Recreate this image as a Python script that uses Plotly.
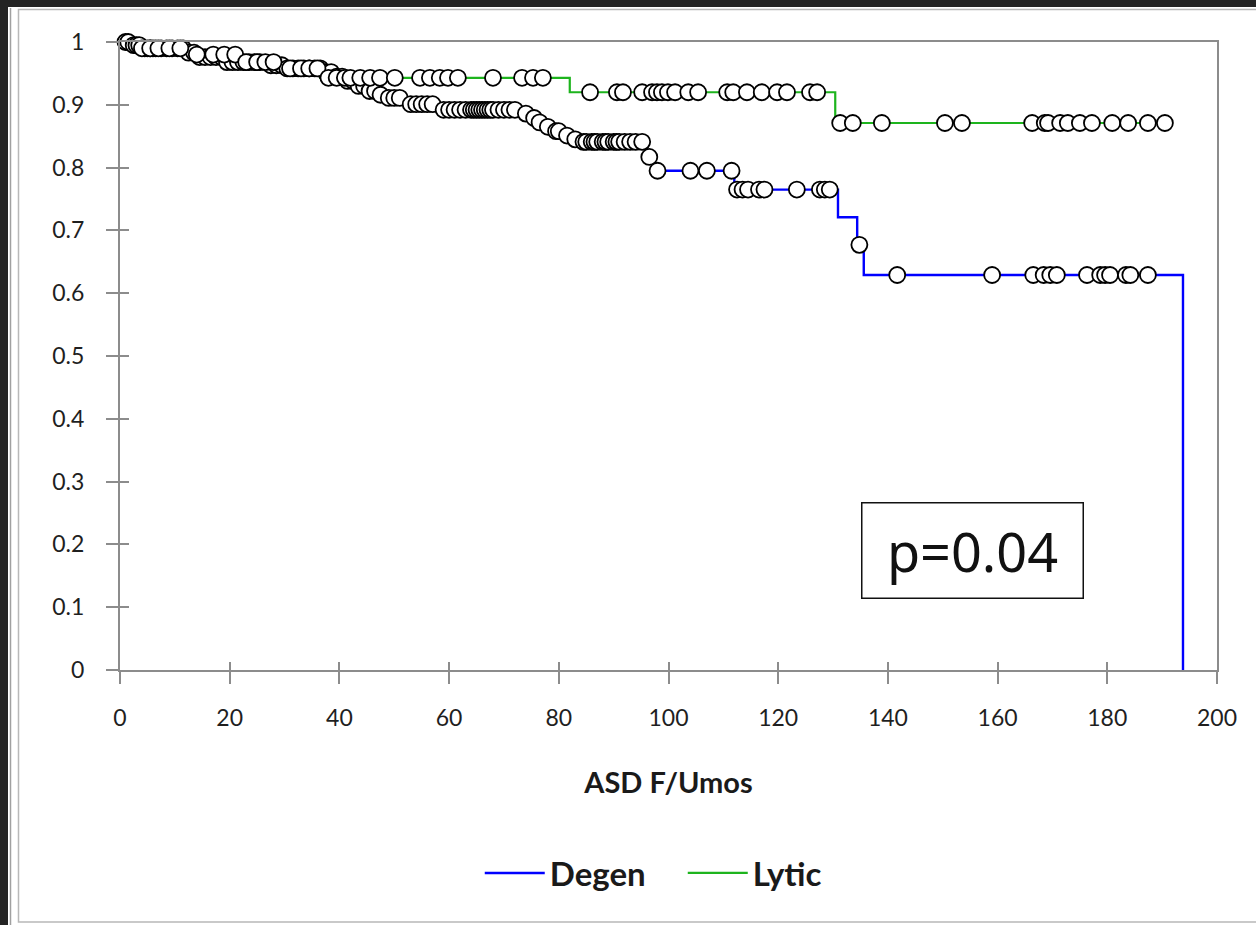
import bisect
import plotly.graph_objects as go

# ---------------- data ----------------
x_tick_vals = [0, 20, 40, 60, 80, 100, 120, 140, 160, 180, 200]
x_tick_text = ["0", "20", "40", "60", "80", "100", "120", "140", "160", "180", "200"]
y_tick_vals = [0, 0.1, 0.2, 0.3, 0.4, 0.5, 0.6, 0.7, 0.8, 0.9, 1.0]
y_tick_text = ["0", "0.1", "0.2", "0.3", "0.4", "0.5", "0.6", "0.7", "0.8", "0.9", "1"]

# Degen: event times and survival after each event
degen_event_t = [2, 4, 12, 14, 19, 27, 30, 37, 39, 41, 43, 45, 47, 48.5, 52.5, 58,
                 73.5, 75, 76, 77.5, 79, 81, 82.5, 84, 96, 97.5, 112, 130.9, 134.4,
                 135.6, 193.8]
degen_event_s = [0.995, 0.99, 0.983, 0.976, 0.968, 0.963, 0.958, 0.952, 0.945, 0.938,
                 0.93, 0.922, 0.916, 0.911, 0.901, 0.892, 0.886, 0.879, 0.872, 0.865,
                 0.858, 0.851, 0.845, 0.841, 0.817, 0.795, 0.765, 0.721, 0.677,
                 0.629, 0.0]
degen_censor_t = [1, 1.5, 2.5, 3, 3.5, 4.5, 5, 5.5, 6, 6.5, 7.5, 8.5, 9.5, 10.5, 11.5,
                  12.5, 13.5, 14.5, 15.5, 16.5, 17.5, 18.5, 19.5, 20.5, 21.5, 22.5,
                  23.5, 24.5, 25.5, 27.5, 28.5, 29.5, 30.5, 31.5, 32.5, 33.5, 34.5,
                  35.5, 36.5, 37.5, 38.5, 39.5, 40.5, 41.5, 42.5, 43.5, 44.5, 45.5,
                  46.5, 47.5, 49, 50, 51, 53, 54, 55, 56, 57, 59, 60, 61, 62, 63, 64,
                  64.5, 65, 65.5, 66, 66.5, 67, 67.5, 68, 69, 70, 71, 72, 74, 75.5,
                  76.5, 78, 79.5, 80, 81.5, 83, 84.5, 85, 86, 86.5, 87, 88, 88.5, 89,
                  90, 90.5, 91, 92, 93, 94, 95.2, 96.5, 98, 104, 107, 111.5, 112.5,
                  113.5, 114.5, 116.5, 117.5, 123.4, 127.6, 128.5, 129.4, 134.8,
                  141.7, 159, 166.5, 168.4, 169.6, 170.8, 176.3, 178.7, 179.6, 180.5,
                  183.4, 184.2, 187.4]

# Lytic: event times and survival after each event
lytic_event_t = [3, 13, 22, 29, 36.5, 82, 130.4]
lytic_event_s = [0.99, 0.98, 0.968, 0.958, 0.943, 0.92, 0.871]
lytic_censor_t = [4, 5.5, 7, 9, 11, 14, 17, 19, 21, 23, 25, 26.5, 28, 31, 33, 34.5, 36,
                  38, 39.5, 41, 42, 43.8, 45.6, 47.4, 50.1, 54.7, 56.5, 58.3, 59.8,
                  61.6, 68, 73.3, 75.3, 77.1, 85.7, 90.6, 91.7, 95.2, 97, 97.9, 98.8,
                  99.9, 101.2, 103.6, 105.4, 110.7, 111.8, 114.3, 117, 119.8, 121.6,
                  125.8, 127.1, 131.3, 133.6, 138.9, 150.4, 153.5, 166.3, 168.6,
                  169.2, 171.4, 172.8, 175, 177.2, 180.9, 183.8, 187.4, 190.5]

p_text = "p=0.04"

# ---------------- helpers ----------------
def step_xy(ev_t, ev_s, censor_t):
    xs = [0] + list(ev_t)
    ys = [1.0] + list(ev_s)
    end = max(list(ev_t) + list(censor_t))
    if end > ev_t[-1]:
        xs.append(end)
        ys.append(ev_s[-1])
    return xs, ys

def surv_at(ev_t, ev_s, t):
    i = bisect.bisect_right(ev_t, t)
    return 1.0 if i == 0 else ev_s[i - 1]

BLUE = "#0000FF"
GREEN = "#1DB41D"
FONT = "Lato"

fig = go.Figure()

dx, dy = step_xy(degen_event_t, degen_event_s, degen_censor_t)
lx, ly = step_xy(lytic_event_t, lytic_event_s, lytic_censor_t)

fig.add_trace(go.Scatter(x=dx, y=dy, mode="lines", line=dict(color=BLUE, width=2.4, shape="hv"),
                         name="Degen", cliponaxis=False))
fig.add_trace(go.Scatter(x=lx, y=ly, mode="lines", line=dict(color=GREEN, width=2.2, shape="hv"),
                         name="Lytic", cliponaxis=False))

marker = dict(symbol="circle", size=16, color="white", line=dict(color="black", width=1.8))
fig.add_trace(go.Scatter(x=degen_censor_t,
                         y=[surv_at(degen_event_t, degen_event_s, t) for t in degen_censor_t],
                         mode="markers", marker=marker, showlegend=False, cliponaxis=False,
                         hoverinfo="x+y"))
fig.add_trace(go.Scatter(x=lytic_censor_t,
                         y=[surv_at(lytic_event_t, lytic_event_s, t) for t in lytic_censor_t],
                         mode="markers", marker=marker, showlegend=False, cliponaxis=False,
                         hoverinfo="x+y"))

# ---------------- layout ----------------
L, R, T, B = 120, 39, 42, 255
W, H = 1256, 925
PW, PH = W - L - R, H - T - B

def px(xp):
    return (xp - L) / PW

def py(yp):
    return (H - B - yp) / PH

AX = "#8c8c8c"
tickfont = dict(family=FONT, size=23, color="#1f1f1f")

shapes = [
    # dark frame strips (left and top)
    dict(type="rect", xref="paper", yref="paper", x0=px(0), x1=px(8), y0=py(0), y1=py(925),
         fillcolor="#242424", line=dict(width=0), layer="above"),
    dict(type="rect", xref="paper", yref="paper", x0=px(0), x1=px(1256), y0=py(0), y1=py(7),
         fillcolor="#242424", line=dict(width=0), layer="above"),
    dict(type="line", xref="paper", yref="paper", x0=px(10.5), x1=px(10.5), y0=py(8), y1=py(925),
         line=dict(color="#a0a0a0", width=1.5), layer="above"),
    dict(type="rect", xref="paper", yref="paper", x0=px(18.5), x1=px(1270), y0=py(9.5), y1=py(922),
         line=dict(color="#b8b8b8", width=1.5), fillcolor="rgba(0,0,0,0)", layer="above"),
]

fig.update_layout(
    width=W, height=H,
    margin=dict(l=L, r=R, t=T, b=B),
    paper_bgcolor="white", plot_bgcolor="white",
    showlegend=True,
    legend=dict(orientation="h", x=0.513, xanchor="center", y=py(873), yanchor="middle",
                font=dict(family=FONT, size=33, color="#1a1a1a", weight="bold"),
                bgcolor="rgba(0,0,0,0)", itemwidth=60, entrywidth=128, tracegroupgap=0),
    xaxis=dict(range=[0, 200], tickvals=x_tick_vals, ticktext=x_tick_text,
               showgrid=False, zeroline=False, showline=True, linecolor=AX, linewidth=2,
               mirror=True, ticks="outside", ticklen=12, tickwidth=2, tickcolor=AX,
               tickfont=tickfont, ticklabelstandoff=14,
               title=dict(text="ASD F/Umos", font=dict(family=FONT, size=29, color="#1a1a1a",
                                                         weight="bold"), standoff=43)),
    yaxis=dict(range=[0, 1], tickvals=y_tick_vals, ticktext=y_tick_text,
               showgrid=False, zeroline=False, showline=True, linecolor=AX, linewidth=2,
               mirror=True, ticks="outside", ticklen=12, tickwidth=2, tickcolor=AX,
               tickfont=tickfont, ticklabelstandoff=17),
    xaxis2=dict(range=[0, 200], overlaying="x", anchor="y", side="bottom", tickvals=x_tick_vals,
                showgrid=False, zeroline=False, showline=False, ticks="inside", ticklen=8,
                tickwidth=2, tickcolor=AX, showticklabels=False),
    yaxis2=dict(range=[0, 1], overlaying="y", anchor="x", side="left", tickvals=y_tick_vals,
                showgrid=False, zeroline=False, showline=False, ticks="inside", ticklen=9,
                tickwidth=2, tickcolor=AX, showticklabels=False),
    shapes=shapes,
    annotations=[dict(x=155.4, y=0.190, xref="x", yref="y", text=p_text, showarrow=False,
                      font=dict(family="Noto Sans", size=54, color="#111111"),
                      bordercolor="#111111", borderwidth=1.5, borderpad=0, bgcolor="white",
                      width=220, height=94, xanchor="center", yanchor="middle", align="center")],
)

# invisible trace so overlay axes are rendered
fig.add_trace(go.Scatter(x=[None], y=[None], xaxis="x2", yaxis="y2", showlegend=False,
                         hoverinfo="skip"))

fig.write_html("out.html", config={"displayModeBar": False},
               post_script="document.body.style.margin='0';document.body.style.overflow='hidden';")
